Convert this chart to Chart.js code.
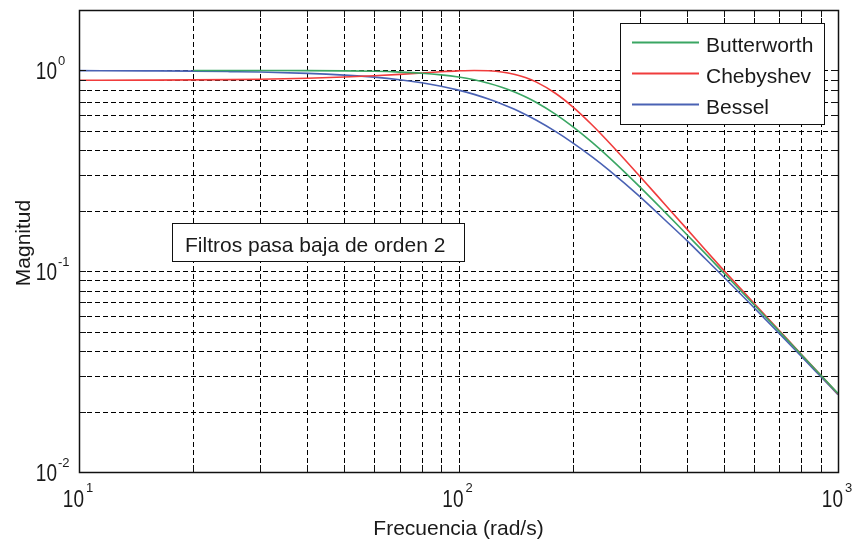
<!DOCTYPE html>
<html>
<head>
<meta charset="utf-8">
<script src="https://cdn.jsdelivr.net/npm/chart.js@4.4.1/dist/chart.umd.min.js"></script>
<style>
html,body{margin:0;padding:0;background:#ffffff;}
#wrap{width:866px;height:539px;position:relative;}
</style>
</head>
<body>
<div id="wrap"><canvas id="c" width="866" height="539"></canvas></div>
<script>
// ---- data ----
const freqs      = [10, 15, 20, 25, 30, 40, 50, 60, 70, 80, 90, 100, 110, 120, 130, 140, 150, 160, 180, 200, 225, 250, 300, 350, 400, 450, 500, 600, 700, 800, 900, 1000];
const butterworth= [null, null, 1.0, 1.0, 0.999, 0.998, 0.995, 0.990, 0.981, 0.968, 0.950, 0.927, 0.898, 0.864, 0.825, 0.783, 0.739, 0.694, 0.606, 0.525, 0.438, 0.367, 0.264, 0.197, 0.152, 0.121, 0.098, 0.0683, 0.0502, 0.0385, 0.0304, 0.0246];
const chebyshev  = [0.893, 0.895, 0.897, 0.900, 0.904, 0.914, 0.927, 0.941, 0.956, 0.971, 0.985, 0.995, 1.0, 0.996, 0.983, 0.958, 0.922, 0.877, 0.770, 0.659, 0.535, 0.435, 0.298, 0.215, 0.162, 0.126, 0.101, 0.0695, 0.0507, 0.0386, 0.0304, 0.0245];
const bessel     = [0.998, 0.995, 0.992, 0.987, 0.982, 0.967, 0.948, 0.926, 0.899, 0.868, 0.834, 0.798, 0.760, 0.720, 0.681, 0.642, 0.603, 0.566, 0.497, 0.436, 0.371, 0.317, 0.236, 0.180, 0.142, 0.114, 0.0936, 0.0660, 0.0490, 0.0377, 0.0299, 0.0243];

const seriesNames  = ['Butterworth', 'Chebyshev', 'Bessel'];
const seriesColors = ['#3aa663', '#f03c3c', '#4a62b4'];

const xMajorTicks = [10, 100, 1000];
const xTickExps   = ['1', '2', '3'];
const yMajorTicks = [0.01, 0.1, 1];
const yTickExps   = ['-2', '-1', '0'];
const xMin = 10, xMax = 1000, yMin = 0.01, yMax = 2;

const xTitle   = 'Frecuencia (rad/s)';
const yTitle   = 'Magnitud';
const noteText = 'Filtros pasa baja de orden 2';

// ---- helpers ----
function toPoints(arr) {
  const pts = [];
  for (let i = 0; i < freqs.length; i++) if (arr[i] !== null) pts.push({x: freqs[i], y: arr[i]});
  return pts;
}
function logMinorValues(min, max) {
  const out = [];
  let d = Math.pow(10, Math.floor(Math.log10(min)));
  while (d <= max) {
    for (let k = 1; k <= 9; k++) {
      const v = +(k * d).toPrecision(6);
      if (v >= min - 1e-12 && v <= max + 1e-12) out.push(v);
    }
    d *= 10;
  }
  return out;
}
const FONT = '"Liberation Sans", Arial, Helvetica, sans-serif';

const framePlugin = {
  id: 'matlabFrame',
  beforeDatasetsDraw(chart) {
    const ctx = chart.ctx, a = chart.chartArea;
    const xs = chart.scales.x, ys = chart.scales.y;
    ctx.save();
    ctx.strokeStyle = '#000';
    ctx.lineWidth = 1;
    ctx.setLineDash([5, 3]);
    logMinorValues(xMin, xMax).forEach(v => {
      const px = Math.round(xs.getPixelForValue(v)) + 0.5;
      if (px <= a.left + 1 || px >= a.right - 1) return;
      ctx.beginPath(); ctx.moveTo(px, a.top); ctx.lineTo(px, a.bottom); ctx.stroke();
    });
    logMinorValues(yMin, yMax).forEach(v => {
      const py = Math.round(ys.getPixelForValue(v)) + 0.5;
      if (py >= a.bottom - 1) return;
      ctx.beginPath(); ctx.moveTo(a.left, py); ctx.lineTo(a.right, py); ctx.stroke();
    });
    ctx.restore();
  },
  afterDatasetsDraw(chart) {
    const ctx = chart.ctx, a = chart.chartArea;
    const xs = chart.scales.x, ys = chart.scales.y;
    ctx.save();
    // inward ticks
    ctx.setLineDash([]);
    ctx.strokeStyle = '#111';
    ctx.lineWidth = 1;
    const tl = 7;
    logMinorValues(xMin, xMax).forEach(v => {
      const px = Math.round(xs.getPixelForValue(v)) + 0.5;
      ctx.beginPath();
      ctx.moveTo(px, a.bottom); ctx.lineTo(px, a.bottom - tl);
      ctx.moveTo(px, a.top); ctx.lineTo(px, a.top + tl);
      ctx.stroke();
    });
    logMinorValues(yMin, yMax).forEach(v => {
      const py = Math.round(ys.getPixelForValue(v)) + 0.5;
      ctx.beginPath();
      ctx.moveTo(a.left, py); ctx.lineTo(a.left + tl, py);
      ctx.moveTo(a.right, py); ctx.lineTo(a.right - tl, py);
      ctx.stroke();
    });
    // frame
    ctx.lineWidth = 1.5;
    ctx.strokeStyle = '#111';
    ctx.strokeRect(Math.round(a.left) + 0.5, Math.round(a.top) + 0.5, Math.round(a.right - a.left), Math.round(a.bottom - a.top));

    // tick labels with superscripts
    ctx.fillStyle = '#1a1a1a';
    const baseFont = '19px ' + FONT, expFont = '13px ' + FONT;
    xMajorTicks.forEach((v, i) => {
      const px = xs.getPixelForValue(v);
      ctx.font = baseFont; const wb = ctx.measureText('10').width;
      ctx.font = expFont; const we = ctx.measureText(xTickExps[i]).width;
      const total = wb + 2 + we;
      const x0 = px - total / 2 - 1;
      ctx.save(); ctx.translate(x0, a.bottom + 35); ctx.scale(1, 1.22);
      ctx.font = baseFont; ctx.textAlign = 'left'; ctx.textBaseline = 'alphabetic';
      ctx.fillText('10', 0, 0); ctx.restore();
      ctx.font = expFont; ctx.textAlign = 'left';
      ctx.fillText(xTickExps[i], x0 + wb + 2, a.bottom + 20);
    });
    yMajorTicks.forEach((v, i) => {
      const py = ys.getPixelForValue(v);
      ctx.save(); ctx.translate(57, py + 9); ctx.scale(1, 1.22);
      ctx.font = baseFont; ctx.textAlign = 'right'; ctx.textBaseline = 'alphabetic';
      ctx.fillText('10', 0, 0); ctx.restore();
      ctx.font = expFont; ctx.textAlign = 'left';
      ctx.fillText(yTickExps[i], 58, py - 5);
    });

    // axis titles
    ctx.font = '21px ' + FONT;
    ctx.textAlign = 'center'; ctx.textBaseline = 'alphabetic';
    ctx.fillText(xTitle, (a.left + a.right) / 2, 535);
    ctx.save(); ctx.translate(30, (a.top + a.bottom) / 2 + 2); ctx.rotate(-Math.PI / 2);
    ctx.fillText(yTitle, 0, 0); ctx.restore();

    // annotation box
    ctx.fillStyle = '#fff';
    ctx.fillRect(172, 223, 292, 38);
    ctx.strokeStyle = '#111'; ctx.lineWidth = 1;
    ctx.strokeRect(172.5, 223.5, 292, 38);
    ctx.fillStyle = '#1a1a1a';
    ctx.textAlign = 'left';
    ctx.fillText(noteText, 185, 252);

    // legend box
    ctx.fillStyle = '#fff';
    ctx.fillRect(620, 23, 204, 101);
    ctx.strokeRect(620.5, 23.5, 204, 101);
    const rows = [42, 73, 104];
    seriesNames.forEach((name, i) => {
      ctx.strokeStyle = seriesColors[i]; ctx.lineWidth = 2;
      ctx.beginPath(); ctx.moveTo(632, rows[i] + 0.5); ctx.lineTo(699, rows[i] + 0.5); ctx.stroke();
      ctx.fillStyle = '#1a1a1a';
      ctx.fillText(name, 706, rows[i] + 10);
    });
    ctx.restore();
  }
};

const datasets = [butterworth, chebyshev, bessel].map((arr, i) => ({
  label: seriesNames[i],
  data: toPoints(arr),
  borderColor: seriesColors[i],
  backgroundColor: seriesColors[i],
  borderWidth: 1.6,
  pointRadius: 0,
  fill: false,
  cubicInterpolationMode: 'monotone'
}));
// draw Bessel beneath the others as in the reference order (green over blue at left)
datasets[0].order = 1; datasets[1].order = 2; datasets[2].order = 3;

new Chart(document.getElementById('c'), {
  type: 'line',
  data: { datasets },
  options: {
    responsive: false,
    animation: false,
    devicePixelRatio: 1,
    layout: { padding: { left: 79, right: 28, top: 10, bottom: 67 } },
    plugins: { legend: { display: false }, tooltip: { enabled: false } },
    scales: {
      x: { type: 'logarithmic', min: xMin, max: xMax, display: false },
      y: { type: 'logarithmic', min: yMin, max: yMax, display: false }
    }
  },
  plugins: [framePlugin]
});
</script>
</body>
</html>
